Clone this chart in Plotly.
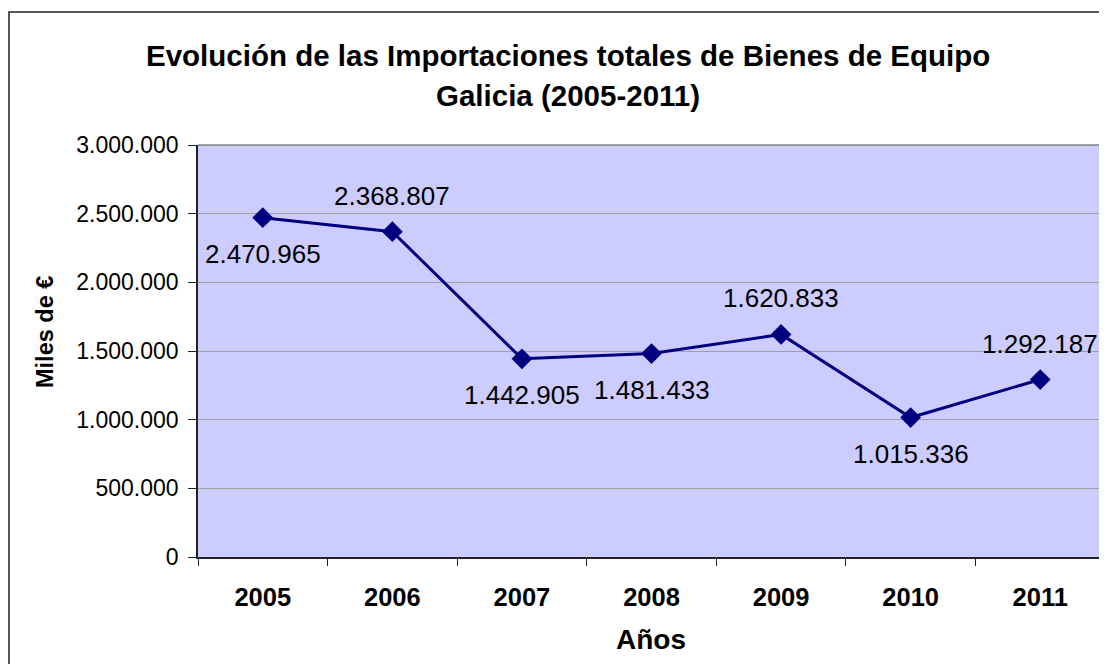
import plotly.graph_objects as go

years = ["2005", "2006", "2007", "2008", "2009", "2010", "2011"]
imports = [2470965, 2368807, 1442905, 1481433, 1620833, 1015336, 1292187]
label_pos = ["below", "above", "below", "below", "above", "below", "above"]

title_line1 = "Evolución de las Importaciones totales de Bienes de Equipo"
title_line2 = "Galicia (2005-2011)"
y_title = "Miles de €"
x_title = "Años"

OFF = 8  # page body margin of the html page
W, H = 1107 - OFF, 664 - OFF
L, R, T, B = 198 - OFF, 2, 145 - OFF, 107
pw, ph = W - L - R, H - T - B

def px(x):
    return (x - OFF - L) / pw

def py(y):
    return (H - B - (y - OFF)) / ph

FONT = "Liberation Sans, Arial, sans-serif"

fig = go.Figure()
fig.add_trace(go.Scatter(
    x=years, y=imports, mode="lines+markers",
    line=dict(color="#000080", width=3),
    marker=dict(symbol="diamond", size=16, color="#000080"),
    hoverinfo="skip", showlegend=False,
))

def fmt(v):
    return f"{v:,}".replace(",", ".")

annotations = []
for i, (v, pos) in enumerate(zip(imports, label_pos)):
    annotations.append(dict(
        x=i, y=v, xref="x", yref="y", text=fmt(v), showarrow=False,
        xanchor="center", yanchor="middle",
        yshift=-36 if pos == "below" else 36,
        font=dict(family=FONT, size=26, color="black"),
    ))

annotations += [
    dict(x=px(568), y=py(55), xref="paper", yref="paper", text="<b>" + title_line1 + "</b>",
         showarrow=False, font=dict(family=FONT, size=29.5, color="black"),
         xanchor="center", yanchor="middle"),
    dict(x=px(568), y=py(95), xref="paper", yref="paper", text="<b>" + title_line2 + "</b>",
         showarrow=False, font=dict(family=FONT, size=29.5, color="black"),
         xanchor="center", yanchor="middle"),
    dict(x=px(45), y=py(332), xref="paper", yref="paper", text="<b>" + y_title + "</b>",
         showarrow=False, textangle=-90, font=dict(family=FONT, size=23.5, color="black"),
         xanchor="center", yanchor="middle"),
    dict(x=px(651), y=py(639), xref="paper", yref="paper", text="<b>" + x_title + "</b>",
         showarrow=False, font=dict(family=FONT, size=28, color="black"),
         xanchor="center", yanchor="middle"),
]

shapes = [
    # outer chart frame
    dict(type="rect", xref="paper", yref="paper", x0=px(9), y0=py(760), x1=px(1250), y1=py(12),
         line=dict(color="#222222", width=1.5), layer="above"),
    # plot area top and right borders
    dict(type="line", xref="paper", yref="paper", x0=0, x1=1, y0=1, y1=1,
         line=dict(color="#808080", width=1.5)),
    dict(type="line", xref="paper", yref="paper", x0=1, x1=1, y0=0, y1=1,
         line=dict(color="#808080", width=1.5)),
]

fig.update_layout(
    width=W, height=H,
    margin=dict(l=L, r=R, t=T, b=B, pad=0),
    paper_bgcolor="white", plot_bgcolor="#CCCCFF",
    separators=",.",
    showlegend=False,
    annotations=annotations,
    shapes=shapes,
    font=dict(family=FONT, color="black"),
)
fig.update_xaxes(
    type="category", tickson="boundaries", ticks="outside", ticklen=7, tickcolor="#222",
    showline=True, linecolor="#222", linewidth=1.5, showgrid=False,
    tickfont=dict(family=FONT, size=25.5, color="black", weight="bold"),
    ticklabelstandoff=17, range=[-0.5, 6.5],
)
fig.update_yaxes(
    range=[0, 3000000], dtick=500000, tickformat=",d", ticks="outside", ticklen=8,
    tickcolor="#222", showline=True, linecolor="#222", linewidth=1.5,
    showgrid=True, gridcolor="#A0A0A0", gridwidth=1, zeroline=False,
    tickfont=dict(family=FONT, size=23, color="black"),
    ticklabelstandoff=5,
)

fig.write_html("out.html")
